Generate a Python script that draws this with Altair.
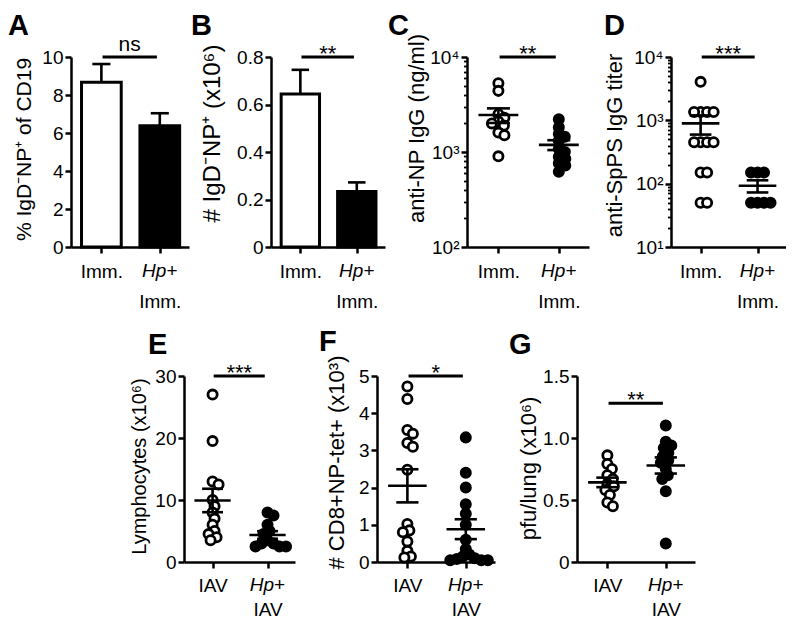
import math
import altair as alt
import pandas as pd

FONT = "Liberation Sans"

# ---------------- values ----------------
top_label = "Imm."
bottom_label = "IAV"

a_mean = [8.67, 6.38]
a_sem = [0.96, 0.66]

b_mean = [0.644, 0.234]
b_sem = [0.102, 0.038]

c_imm = [5300, 4400, 2500, 2300, 2100, 2000, 1900, 1600, 1500, 900]
c_hp = [2210, 1820, 1550, 1450, 1320, 1080, 1000, 890, 850, 760, 720, 620]

d_imm = [4050, 1350, 1350, 1350, 1350, 450, 450, 450, 450, 150, 150, 50, 50]
d_hp = [150, 150, 150, 50, 50, 50, 50]

e_iav = [27, 19.5, 13, 12.5, 10, 9, 8, 7, 6, 5, 4.5, 4, 3.5]
e_hp = [8, 7.5, 6, 5, 4.5, 3.5, 3, 3, 2.5, 2.5, 2.5]

f_iav = [4.72, 4.38, 3.55, 3.45, 3.2, 3.1, 2.48, 1.02, 0.85, 0.8, 0.55, 0.3, 0.15, 0.12]
f_hp = [3.35, 2.4, 2.0, 1.55, 1.3, 1.0, 0.6, 0.35, 0.2, 0.15, 0.1, 0.08, 0.05, 0.05, 0.05]

g_iav = [0.86, 0.79, 0.75, 0.70, 0.67, 0.63, 0.61, 0.58, 0.54, 0.48, 0.45]
g_hp = [1.10, 0.97, 0.94, 0.92, 0.88, 0.85, 0.82, 0.80, 0.75, 0.70, 0.67, 0.57, 0.15]

sig_text = ["ns", "**", "**", "***", "***", "*", "**"]
sig_level = [10, 0.8, 10000, 10000, 30, 5, 1.28]

y_titles = ["% IgD⁻NP⁺ of CD19", "# IgD⁻NP⁺ (x10⁶)", "anti-NP IgG (ng/ml)",
            "anti-SpPS IgG titer", "Lymphocytes (x10⁶)", "# CD8+NP-tet+ (x10³)",
            "pfu/lung (x10⁶)"]

c_ticks = [100 * k for k in range(1, 10)] + [1000 * k for k in range(1, 11)]
d_ticks = [10 * k for k in range(1, 10)] + [100 * k for k in range(1, 10)] + [1000 * k for k in range(1, 11)]

# ---------------- layout ----------------
XD = [-0.52, 1.5]
H1, H2 = 190, 186
SPACE = 82


def dodge(vals, to_px, dmin=6.5, step=0.5):
    ys = [to_px(v) for v in vals]
    order = sorted(range(len(vals)), key=lambda i: -ys[i])
    placed, out = [], [0.0] * len(vals)
    for i in order:
        y = ys[i]
        k = 0
        while True:
            mag = ((k + 1) // 2) * step
            c = mag if k % 2 == 1 else -mag
            if all((c - px) ** 2 + (y - py) ** 2 >= dmin ** 2 for px, py in placed):
                break
            k += 1
        placed.append((c, y))
        out[i] = c
    return out


def make_xy(lab, H, ydom, log, yvals, yexpr, ytitle, tx, ty, tfs, majors, lab_pad, line_h):
    xa = alt.Axis(values=[0, 1], title=None,
                  labelExpr=f"datum.value == 0 ? '{lab}' : [' ', '{lab}']",
                  tickSize=6, labelPadding=lab_pad, labelLineHeight=line_h, labelFontSize=19,
                  labelOverlap=False, labelFlush=False, labelAngle=0, grid=False)
    ykw = dict(values=yvals, title=ytitle, titleX=tx, titleY=ty, titleAngle=270,
               titleBaseline="bottom", titleAlign="center", titleFontSize=tfs,
               titleFontWeight="normal", labelExpr=yexpr, labelPadding=2, labelFontSize=19,
               labelOverlap=False, labelFlush=False, grid=False)
    if majors:
        test = f"indexof({majors}, datum.value) >= 0"
        ykw["tickSize"] = {"condition": {"test": test, "value": 6}, "value": 3.5}
        ykw["tickWidth"] = {"condition": {"test": test, "value": 2.5}, "value": 1.8}
    else:
        ykw["tickSize"] = 6
    ya = alt.Axis(**ykw)
    xs = alt.Scale(domain=XD, nice=False, zero=False)
    if log:
        ys = alt.Scale(type="log", domain=ydom, nice=False)
    else:
        ys = alt.Scale(domain=ydom, nice=False, zero=False)

    def X(f):
        return alt.X(f, scale=xs, axis=xa)

    def Y(f):
        return alt.Y(f, scale=ys, axis=ya)
    return X, Y


def extras(X, Y, H, sig, level, letter, lx, ly, lab_pad):
    sd = pd.DataFrame({"x1": [0.02], "x2": [0.95], "xm": [0.485], "y": [level], "t": [sig]})
    rule = alt.Chart(sd).mark_rule(color="black", strokeWidth=3).encode(
        x=X("x1:Q"), x2="x2:Q", y=Y("y:Q"))
    star = sig.startswith("*")
    txt = alt.Chart(sd).mark_text(font=FONT, fontSize=22 if star else 21, baseline="alphabetic",
                                  dy=4 if star else -6, color="black").encode(
        x=X("xm:Q"), y=Y("y:Q"), text="t:N")
    hd = pd.DataFrame({"gi": [1], "a": ["Hp"], "b": ["+"]})
    yy = H + 6 + lab_pad
    hp = alt.Chart(hd).mark_text(font=FONT, fontSize=19, fontStyle="italic", align="right",
                                 baseline="top", dx=6.6, color="black").encode(
        x=X("gi:Q"), y=alt.value(yy), text="a:N")
    plus = alt.Chart(hd).mark_text(font=FONT, fontSize=19, align="left",
                                   baseline="top", dx=6.6, color="black").encode(
        x=X("gi:Q"), y=alt.value(yy), text="b:N")
    ld = pd.DataFrame({"t": [letter]})
    let = alt.Chart(ld).mark_text(font=FONT, fontSize=29, fontWeight="bold", align="left",
                                  baseline="alphabetic", color="black").encode(
        x=alt.value(lx), y=alt.value(ly), text="t:N")
    return [rule, txt, hp, plus, let]


def scatter_layers(v0, v1, W, H, ydom, log, X, Y):
    ppu = W / (XD[1] - XD[0])
    if log:
        lo, hi = math.log10(ydom[0]), math.log10(ydom[1])

        def to_px(v):
            return H * (math.log10(v) - lo) / (hi - lo)
    else:
        lo, hi = ydom

        def to_px(v):
            return H * (v - lo) / (hi - lo)
    rows = []
    for gi, vals in enumerate([v0, v1]):
        for v, o in zip(vals, dodge(vals, to_px)):
            rows.append({"gi": gi, "v": v, "xp": gi + o / ppu})
    df = pd.DataFrame(rows)
    base = alt.Chart(df)
    opn = base.transform_filter("datum.gi == 0").mark_point(
        shape="circle", size=85, filled=True, fill="white", stroke="black",
        strokeWidth=2.8, opacity=1).encode(x=X("xp:Q"), y=Y("v:Q"))
    fil = base.transform_filter("datum.gi == 1").mark_point(
        shape="circle", size=85, filled=True, fill="black", stroke="black",
        strokeWidth=2.8, opacity=1).encode(x=X("xp:Q"), y=Y("v:Q"))
    st = base.transform_aggregate(m="mean(v)", se="stderr(v)", groupby=["gi"]).transform_calculate(
        lo="datum.m - datum.se", hi="datum.m + datum.se",
        ml="datum.gi - 0.33", mr="datum.gi + 0.33",
        sl="datum.gi - 0.19", sr="datum.gi + 0.19")
    mean = st.mark_rule(color="black", strokeWidth=2.6).encode(x=X("ml:Q"), x2="mr:Q", y=Y("m:Q"))
    up = st.mark_rule(color="black", strokeWidth=2.6).encode(x=X("sl:Q"), x2="sr:Q", y=Y("hi:Q"))
    dn = st.mark_rule(color="black", strokeWidth=2.6).encode(x=X("sl:Q"), x2="sr:Q", y=Y("lo:Q"))
    vt = st.mark_rule(color="black", strokeWidth=2.6).encode(x=X("gi:Q"), y=Y("lo:Q"), y2="hi:Q")
    return [opn, fil, mean, up, dn, vt]


def bar_layers(means, sems, X, Y):
    df = pd.DataFrame({"gi": [0, 1], "m": means, "se": sems})
    base = alt.Chart(df).transform_calculate(
        xl="datum.gi - 0.34", xr="datum.gi + 0.34", z="0", top="datum.m + datum.se",
        cl="datum.gi - 0.155", cr="datum.gi + 0.155")
    b = base.mark_bar(stroke="black", strokeWidth=3).encode(
        x=X("xl:Q"), x2="xr:Q", y=Y("m:Q"), y2="z:Q",
        fill=alt.Fill("gi:N", scale=alt.Scale(domain=[0, 1], range=["white", "black"]), legend=None))
    e = base.mark_rule(color="black", strokeWidth=2.6).encode(x=X("gi:Q"), y=Y("m:Q"), y2="top:Q")
    c = base.mark_rule(color="black", strokeWidth=2.6).encode(x=X("cl:Q"), x2="cr:Q", y=Y("top:Q"))
    return [b, e, c]


INT = "format(datum.value, 'd')"
DEC = "datum.value == 0 ? '0' : format(datum.value, '.1f')"
LOGC = "datum.value == 100 ? '10²' : datum.value == 1000 ? '10³' : datum.value == 10000 ? '10⁴' : ''"
LOGD = ("datum.value == 10 ? '10¹' : datum.value == 100 ? '10²' : datum.value == 1000 ? '10³' : "
        "datum.value == 10000 ? '10⁴' : ''")

TP, BP = 9, 8  # label paddings
TL, BL = 30, 24  # label line heights
LY1 = -22

# Panel A
W = 118
X, Y = make_xy(top_label, H1, [0, 10], False, [0, 2, 4, 6, 8, 10], INT, y_titles[0], -37, 92, 21, None, TP, TL)
pa = alt.layer(*bar_layers(a_mean, a_sem, X, Y),
               *extras(X, Y, H1, sig_text[0], sig_level[0], "A", -63, LY1, TP)).properties(width=W, height=H1)

# Panel B
W = 114
X, Y = make_xy(top_label, H1, [0, 0.8], False, [0, 0.2, 0.4, 0.6, 0.8], DEC, y_titles[1], -47, 76, 24, None, TP, TL)
pb = alt.layer(*bar_layers(b_mean, b_sem, X, Y),
               *extras(X, Y, H1, sig_text[1], sig_level[1], "B", -80, LY1, TP)).properties(width=W, height=H1)

# Panel C
W = 122
X, Y = make_xy(top_label, H1, [100, 10000], True, c_ticks, LOGC, y_titles[2], -39, 71, 22, [100, 1000, 10000], TP, TL)
pc = alt.layer(*scatter_layers(c_imm, c_hp, W, H1, [100, 10000], True, X, Y),
               *extras(X, Y, H1, sig_text[2], sig_level[2], "C", -79, LY1, TP)).properties(width=W, height=H1)

# Panel D
W = 115
X, Y = make_xy(top_label, H1, [10, 10000], True, d_ticks, LOGD, y_titles[3], -45, 88, 22, [10, 100, 1000, 10000], TP, TL)
pd_ = alt.layer(*scatter_layers(d_imm, d_hp, W, H1, [10, 10000], True, X, Y),
                *extras(X, Y, H1, sig_text[3], sig_level[3], "D", -67, LY1, TP)).properties(width=W, height=H1)

# Panel E
W = 111
X, Y = make_xy(bottom_label, H2, [0, 30], False, [0, 10, 20, 30], INT, y_titles[4], -35, 90, 20, None, BP, BL)
pe = alt.layer(*scatter_layers(e_iav, e_hp, W, H2, [0, 30], False, X, Y),
               *extras(X, Y, H2, sig_text[4], sig_level[4], "E", -36, -22, BP)).properties(width=W, height=H2)

# Panel F
W = 118
X, Y = make_xy(bottom_label, H2, [0, 5], False, [0, 1, 2, 3, 4, 5], INT, y_titles[5], -29, 86, 22, None, BP, BL)
pf = alt.layer(*scatter_layers(f_iav, f_hp, W, H2, [0, 5], False, X, Y),
               *extras(X, Y, H2, sig_text[5], sig_level[5], "F", -58, -25, BP)).properties(width=W, height=H2)

# Panel G
W = 118
X, Y = make_xy(bottom_label, H2, [0, 1.5], False, [0, 0.5, 1.0, 1.5], DEC, y_titles[6], -37, 92, 22, None, BP, BL)
pg = alt.layer(*scatter_layers(g_iav, g_hp, W, H2, [0, 1.5], False, X, Y),
               *extras(X, Y, H2, sig_text[6], sig_level[6], "G", -68, -22, BP)).properties(width=W, height=H2)

spacer = alt.Chart(pd.DataFrame({"t": [""]})).mark_text().encode(
    text="t:N", x=alt.value(0), y=alt.value(0)).properties(width=31, height=H2)

row1 = alt.hconcat(pa, pb, pc, pd_, spacing=SPACE, bounds="flush")
row2 = alt.hconcat(spacer, pe, pf, pg, spacing=SPACE, bounds="flush")

chart = alt.vconcat(row1, row2, spacing=17,
                    padding={"top": 4, "left": 0, "right": 0, "bottom": 0}).configure(
    font=FONT, background="white"
).configure_axis(
    domainColor="black", domainWidth=2.5, tickColor="black", tickWidth=2.5,
    labelColor="black", titleColor="black", labelFont=FONT, titleFont=FONT,
    titleFontWeight="normal", grid=False
).configure_view(stroke=None)

chart.save("out.html", embed_options={"renderer": "svg", "actions": False})
